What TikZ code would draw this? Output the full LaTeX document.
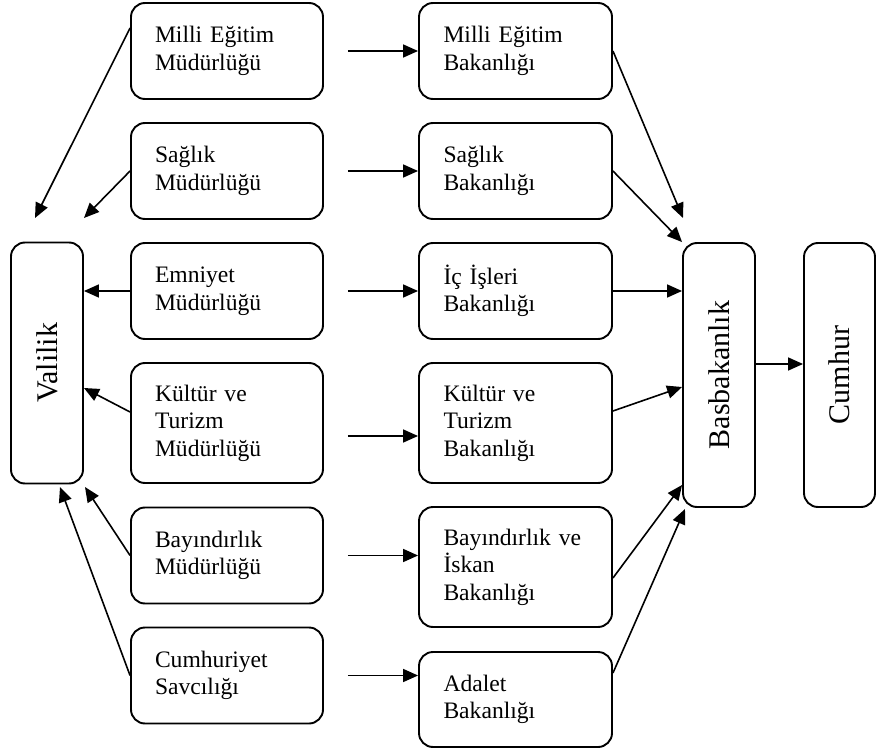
\documentclass[tikz,border=0pt]{standalone}
\usepackage{fontspec}
\usepackage{graphicx}
\setmainfont{Liberation Serif}
\usetikzlibrary{arrows.meta}
\begin{document}
\begin{tikzpicture}[x=1pt,y=-1pt,
  box/.style={draw, line width=1.9pt, rounded corners=14pt,
    minimum width=192pt, minimum height=96pt, text width=144pt,
    align=left, inner xsep=0pt, font=\fontsize{23.6}{27.5}\selectfont},
  tallbox/.style={draw, line width=1.9pt, rounded corners=14pt,
    minimum width=72pt, minimum height=#1, inner sep=0pt,
    font=\fontsize{30}{36}\selectfont},
  arr/.style={line width=1.6pt, -{Triangle[length=15pt,width=13pt]}}]
\useasboundingbox (0,0) rectangle (884,749);

% governorate
\node[tallbox=241pt] (v) at (47,363) {\rotatebox{90}{Valilik}};

% provincial directorates
\node[box] (m1) at (227,51) {Milli Eğitim\\Müdürlüğü};
\node[box] (m2) at (227,171) {Sağlık\\Müdürlüğü};
\node[box] (m3) at (227,291) {Emniyet\\Müdürlüğü};
\node[box, minimum height=120pt] (m4) at (227,423) {Kültür~ve\\Turizm\\Müdürlüğü};
\node[box] (m5) at (227,555.5) {Bayındırlık\\Müdürlüğü};
\node[box] (m6) at (227,675.5) {Cumhuriyet\\Savcılığı};

% ministries
\node[box, minimum width=193pt] (b1) at (515.5,51) {Milli Eğitim\\Bakanlığı};
\node[box, minimum width=193pt] (b2) at (515.5,171) {Sağlık\\Bakanlığı};
\node[box, minimum width=193pt] (b3) at (515.5,291) {İç İşleri\\Bakanlığı};
\node[box, minimum width=193pt, minimum height=120pt] (b4) at (515.5,423) {Kültür~ve\\Turizm\\Bakanlığı};
\node[box, minimum width=193pt, minimum height=120pt] (b5) at (515.5,567) {Bayındırlık~ve\\İskan\\Bakanlığı};
\node[box, minimum width=193pt, minimum height=95pt] (b6) at (515.5,699.5) {Adalet\\Bakanlığı};

% prime ministry and presidency
\node[tallbox=264pt] (bb) at (719,375) {\rotatebox{90}{Basbakanlık}};
\node[tallbox=264pt, minimum width=71pt] (cu) at (839.5,375) {\rotatebox{90}{Cumhur}};

% free arrow ends
\coordinate (v1) at (35,218);
\coordinate (v2) at (84,218);
\coordinate (v5) at (85,487);
\coordinate (v6) at (60,487);
\coordinate (p1) at (683,218);
\coordinate (p6) at (685,509);

% directorate -> ministry
\draw[arr] ([xshift=24pt]m1.east) -- (m1.east -| b1.west);
\draw[arr] ([xshift=24pt]m2.east) -- (m2.east -| b2.west);
\draw[arr] ([xshift=24pt]m3.east) -- (m3.east -| b3.west);
\draw[arr] ([shift={(24pt,-13pt)}]m4.east) -- ([yshift=-13pt]b4.west);
\draw[arr] ([xshift=24pt]m5.east) -- (m5.east -| b5.west);
\draw[arr] ([xshift=24pt]m6.east) -- (m6.east -| b6.west);

% directorate -> governorate
\draw[arr] ([yshift=23pt]m1.west) -- (v1);
\draw[arr] (m2.west) -- (v2);
\draw[arr] (m3.west) -- (m3.west -| v.east);
\draw[arr] ([yshift=11pt]m4.west) -- ([yshift=-25pt]v.east);
\draw[arr] (m5.west) -- (v5);
\draw[arr] (m6.west) -- (v6);

% ministry -> prime ministry
\draw[arr] (b1.east) -- (p1);
\draw[arr] (b2.east) -- (bb.north west);
\draw[arr] (b3.east) -- (b3.east -| bb.west);
\draw[arr] ([yshift=12pt]b4.east) -- ([yshift=-12pt]bb.west);
\draw[arr] ([yshift=-11pt]b5.east) -- ([yshift=-110pt]bb.west);
\draw[arr] ([yshift=26.5pt]b6.east) -- (p6);

% prime ministry -> presidency
\draw[arr] ([yshift=11pt]bb.east) -- ([yshift=11pt]cu.west);
\end{tikzpicture}
\end{document}
